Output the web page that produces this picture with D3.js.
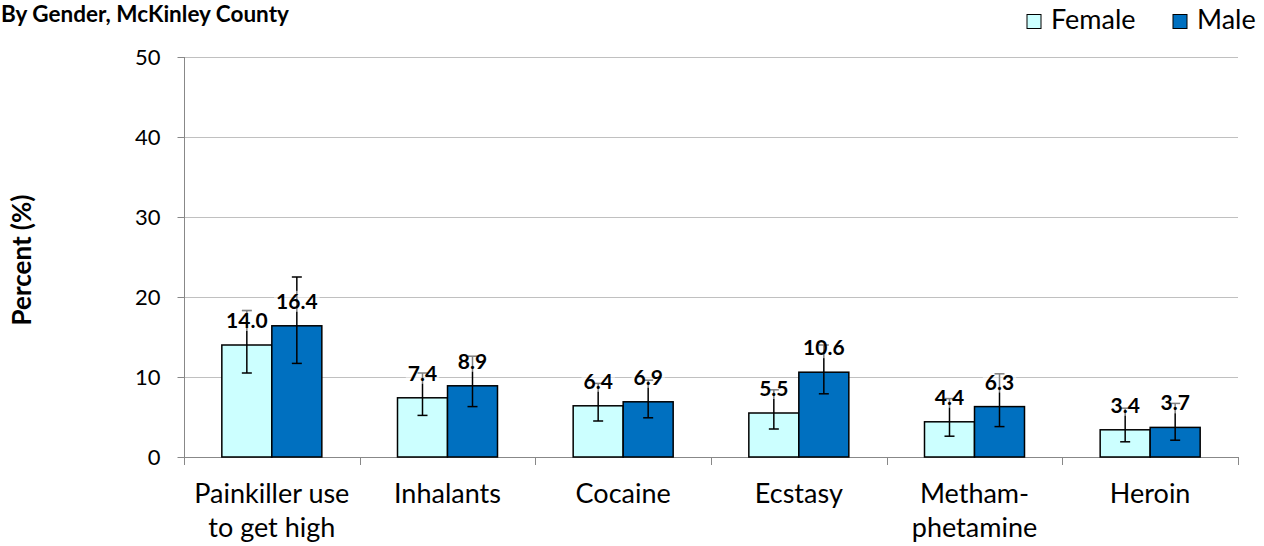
<!DOCTYPE html>
<html><head><meta charset="utf-8">
<script src="https://cdn.jsdelivr.net/npm/d3@7"></script>
<style>body{margin:0;background:#fff;} svg{display:block;font-family:Lato,"Open Sans",sans-serif;}</style>
</head><body>
<svg id="c" width="1264" height="546"></svg>
<script>
const categories = [["Painkiller use","to get high"],["Inhalants"],["Cocaine"],["Ecstasy"],["Metham-","phetamine"],["Heroin"]];
const seriesNames = ["Female","Male"];
const femaleValues = [14.0, 7.4, 6.4, 5.5, 4.4, 3.4];
const maleValues = [16.4, 8.9, 6.9, 10.6, 6.3, 3.7];
const femaleLow = [10.5, 5.2, 4.5, 3.5, 2.6, 1.9];
const femaleHigh = [18.3, 10.5, 9.2, 8.4, 7.3, 6.1];
const maleLow = [11.7, 6.3, 4.9, 7.9, 3.8, 2.1];
const maleHigh = [22.5, 12.6, 9.6, 14.0, 10.4, 6.7];
const yTicks = [0,10,20,30,40,50];
const colors = ["#CCFFFF","#0070C0"];

const svg = d3.select("#c");
const x = d3.scaleBand().domain(d3.range(categories.length)).range([184,1238]).paddingInner(0);
const y = d3.scaleLinear().domain([0,50]).range([457,57]);
const barW = 50;

// gridlines
svg.append("g").selectAll("line").data(yTicks.filter(d=>d>0)).join("line")
  .attr("x1",184).attr("x2",1238).attr("y1",d=>y(d)+0.5).attr("y2",d=>y(d)+0.5)
  .attr("stroke","#c0c0c0").attr("stroke-width",1);

// y axis
const yAxis = svg.append("g").attr("transform","translate(184.5,0)")
  .call(d3.axisLeft(y).tickValues(yTicks).tickSize(7).tickPadding(17).tickFormat(d3.format("d")));
yAxis.select(".domain").attr("stroke","#888").attr("d","M0,"+y(50)+"V"+y(0));
yAxis.selectAll(".tick line").attr("stroke","#888");
yAxis.selectAll("text").attr("font-size",22).attr("fill","#000").attr("font-family","Lato").attr("dy","0.34em");

// x axis
const xg = svg.append("g");
xg.append("line").attr("x1",184).attr("x2",1238).attr("y1",457.5).attr("y2",457.5).attr("stroke","#888");
const bounds = d3.range(categories.length+1).map(i=> i<categories.length ? x(i) : x(categories.length-1)+x.bandwidth());
xg.selectAll("line.t").data(bounds).join("line").attr("class","t")
  .attr("x1",d=>Math.round(d)+0.5).attr("x2",d=>Math.round(d)+0.5).attr("y1",457).attr("y2",465).attr("stroke","#888");
categories.forEach((c,i)=>{
  const t = xg.append("text").attr("x",x(i)+x.bandwidth()/2).attr("y",503)
    .attr("text-anchor","middle").attr("font-size",27).attr("fill","#000");
  c.forEach((line,j)=> t.append("tspan").attr("x",x(i)+x.bandwidth()/2).attr("dy", j===0?0:34).text(line));
});

// bars
const series = [
  {name:seriesNames[0], vals:femaleValues, lo:femaleLow, hi:femaleHigh, color:colors[0], off:-barW},
  {name:seriesNames[1], vals:maleValues, lo:maleLow, hi:maleHigh, color:colors[1], off:0}
];
series.forEach(s=>{
  svg.append("g").selectAll("rect").data(s.vals).join("rect")
    .attr("x",(d,i)=>x(i)+x.bandwidth()/2+s.off)
    .attr("y",d=>y(d)).attr("width",barW).attr("height",d=>y(0)-y(d))
    .attr("fill",s.color).attr("stroke","#000").attr("stroke-width",1.5);
});
// error bars
series.forEach(s=>{
  const g = svg.append("g").attr("stroke","#000").attr("stroke-width",1.5);
  s.vals.forEach((v,i)=>{
    const cx = x(i)+x.bandwidth()/2+s.off+barW/2;
    g.append("line").attr("x1",cx).attr("x2",cx).attr("y1",y(s.lo[i])).attr("y2",y(s.hi[i]));
    g.append("line").attr("x1",cx-5).attr("x2",cx+5).attr("y1",y(s.lo[i])).attr("y2",y(s.lo[i]));
    g.append("line").attr("x1",cx-5).attr("x2",cx+5).attr("y1",y(s.hi[i])).attr("y2",y(s.hi[i]));
  });
});
// data labels
series.forEach(s=>{
  s.vals.forEach((v,i)=>{
    const cx = x(i)+x.bandwidth()/2+s.off+barW/2;
    const g = svg.append("g");
    const t = g.append("text").attr("x",cx).attr("y",y(v)-17).attr("text-anchor","middle")
      .attr("font-size",21).attr("font-weight","bold").attr("fill","#000").text(d3.format(".1f")(v));
    const bb = t.node().getBBox();
    g.insert("rect","text").attr("x",bb.x-2).attr("y",bb.y+3).attr("width",bb.width+4).attr("height",bb.height-4)
      .attr("fill","#fff").attr("opacity",0.5);
  });
});

// y title
svg.append("text").attr("transform","translate(31,260) rotate(-90)").attr("text-anchor","middle")
  .attr("font-size",26).attr("font-weight","bold").attr("fill","#000").text("Percent (%)");
// title
svg.append("text").attr("x",1).attr("y",22).attr("font-size",22.5).attr("font-weight","bold").attr("fill","#000")
  .text("By Gender, McKinley County");

// legend
const legX = [1027, 1173];
series.forEach((s,i)=>{
  svg.append("rect").attr("x",legX[i]).attr("y",14.5).attr("width",14).attr("height",14)
    .attr("fill",s.color).attr("stroke","#000").attr("stroke-width",1);
  svg.append("text").attr("x",legX[i]+24).attr("y",29).attr("font-size",27).attr("fill","#000").text(s.name);
});
</script>
</body></html>
